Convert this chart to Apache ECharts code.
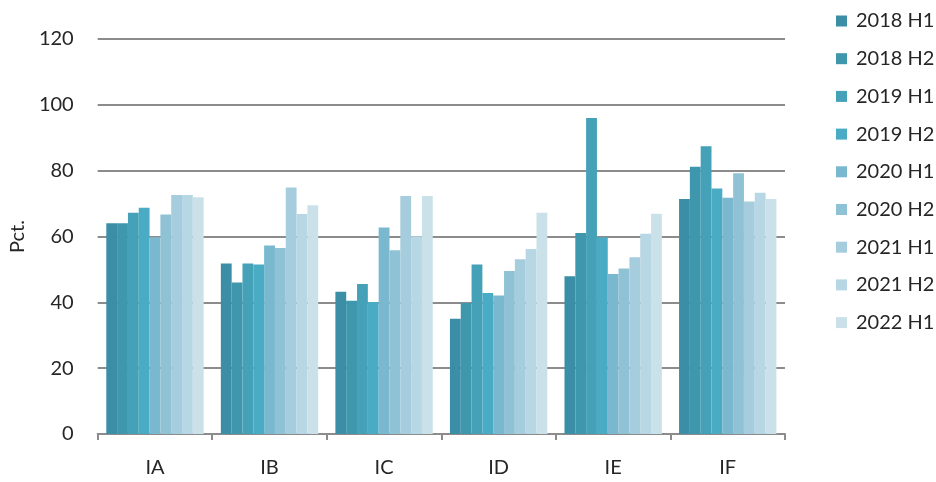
<!DOCTYPE html>
<html>
<head>
<meta charset="utf-8">
<script src="https://cdn.jsdelivr.net/npm/echarts@6/dist/echarts.min.js"></script>
<style>html,body{margin:0;padding:0;background:#fff}#c{width:936px;height:482px}</style>
</head>
<body>
<div id="c"></div>
<script>
const categories = ['IA', 'IB', 'IC', 'ID', 'IE', 'IF'];
const seriesNames = ['2018 H1', '2018 H2', '2019 H1', '2019 H2', '2020 H1', '2020 H2', '2021 H1', '2021 H2', '2022 H1'];
const s2018H1 = [64.0, 51.8, 43.2, 35.0, 47.9, 71.4];
const s2018H2 = [64.0, 46.0, 40.5, 39.8, 61.1, 81.2];
const s2019H1 = [67.2, 51.8, 45.6, 51.5, 96.0, 87.4];
const s2019H2 = [68.7, 51.5, 40.1, 42.8, 59.8, 74.6];
const s2020H1 = [59.8, 57.3, 62.7, 42.1, 48.6, 71.8];
const s2020H2 = [66.7, 56.5, 55.8, 49.5, 50.3, 79.2];
const s2021H1 = [72.6, 74.9, 72.3, 53.1, 53.7, 70.6];
const s2021H2 = [72.6, 66.8, 60.1, 56.2, 60.8, 73.3];
const s2022H1 = [71.9, 69.5, 72.3, 67.2, 66.9, 71.4];
const yTicks = [0, 20, 40, 60, 80, 100, 120];

const allSeries = [s2018H1, s2018H2, s2019H1, s2019H2, s2020H1, s2020H2, s2021H1, s2021H2, s2022H1];
const colors = ['#3b8ea6', '#3f97ae', '#44a1b8', '#4aacc4', '#79b8cf', '#90c2d5', '#a6cddd', '#b8d7e4', '#cbe1ea'];
const font = 'Lato, "Open Sans", sans-serif';
const textColor = '#262626';

const chart = echarts.init(document.getElementById('c'), null, {renderer: 'canvas'});
chart.setOption({
  animation: false,
  color: colors,
  textStyle: {fontFamily: font},
  grid: {left: 97, right: 151, top: 39, bottom: 48, containLabel: false},
  legend: {
    orient: 'vertical',
    left: 836,
    top: 10,
    padding: 0,
    itemWidth: 11,
    itemHeight: 11,
    itemGap: 15.7,
    icon: 'rect',
    data: seriesNames,
    textStyle: {fontSize: 20, color: textColor, lineHeight: 22, fontFamily: font, padding: [0, 0, 0, 4]}
  },
  xAxis: {
    type: 'category',
    data: categories,
    axisLine: {show: true, lineStyle: {color: '#8c8c8c', width: 2}},
    axisTick: {show: true, length: 6, lineStyle: {color: '#8c8c8c', width: 2}},
    axisLabel: {fontSize: 20, color: textColor, margin: 24, fontFamily: font}
  },
  yAxis: {
    type: 'value',
    min: yTicks[0],
    max: yTicks[yTicks.length - 1],
    interval: 20,
    name: 'Pct.',
    nameLocation: 'middle',
    nameRotate: 90,
    nameGap: 57,
    nameTextStyle: {fontSize: 20, color: textColor, fontFamily: font},
    axisLine: {show: false},
    axisTick: {show: false},
    axisLabel: {fontSize: 20, color: textColor, margin: 24, fontFamily: font},
    splitLine: {show: true, lineStyle: {color: '#8c8c8c', width: 2}}
  },
  series: seriesNames.map((n, i) => ({
    name: n,
    type: 'bar',
    data: allSeries[i],
    barGap: '0%',
    barCategoryGap: '15%',
    itemStyle: {color: colors[i]}
  }))
});
</script>
</body>
</html>
